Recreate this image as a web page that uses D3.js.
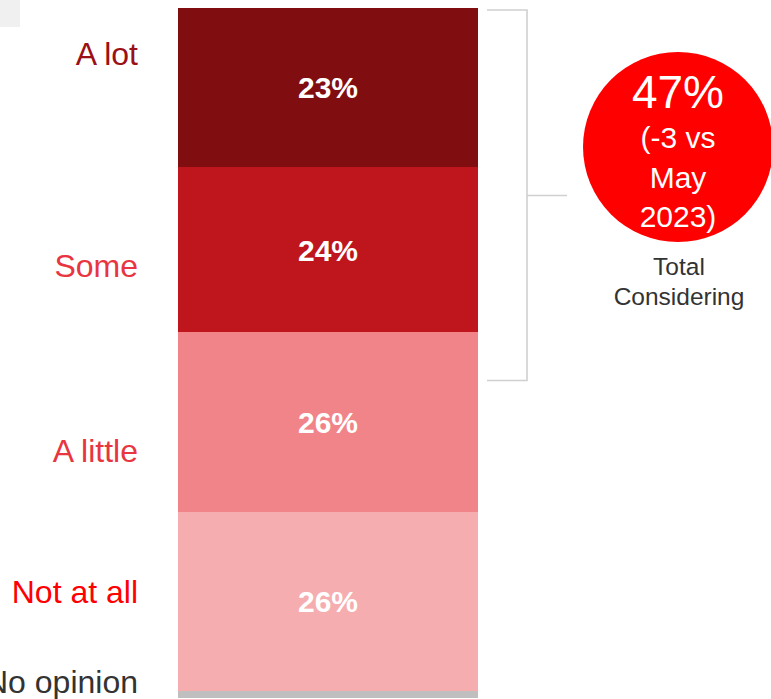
<!DOCTYPE html>
<html><head><meta charset="utf-8">
<script src="https://cdn.jsdelivr.net/npm/d3@7/dist/d3.min.js"></script>
<style>html,body{margin:0;padding:0;background:#fff;}svg{display:block;font-family:"Liberation Sans",Arial,sans-serif;}</style>
</head><body>
<script>
const categories = ["A lot", "Some", "A little", "Not at all", "No opinion"];
const values = [23, 24, 26, 26, 1];
const valueLabels = ["23%", "24%", "26%", "26%", ""];
const barColors = ["#800d10", "#be161c", "#f08488", "#f5adaf", "#bfbfbf"];
const labelColors = ["#9b1014", "#e8353f", "#e8353f", "#ff0000", "#333333"];
const totalValue = "47%";
const totalLines = ["(-3 vs", "May", "2023)"];
const totalCaption = ["Total", "Considering"];

const W = 771, H = 699;
const svg = d3.select("body").append("svg").attr("width", W).attr("height", H);

svg.append("rect").attr("x", 0).attr("y", 0).attr("width", 20).attr("height", 27).attr("fill", "#f0f0f0");

const total = d3.sum(values);
const y = d3.scaleLinear().domain([0, total]).range([8, 698]);
const x = d3.scaleBand().domain(["bar"]).range([178, 478]).padding(0);

const stack = [];
let acc = 0;
values.forEach((v, i) => { stack.push({cat: categories[i], v, y0: acc, y1: acc + v, i}); acc += v; });

svg.selectAll("rect.seg").data(stack).enter().append("rect")
  .attr("class", "seg")
  .attr("shape-rendering", "crispEdges")
  .attr("x", x("bar")).attr("width", x.bandwidth())
  .attr("y", d => y(d.y0)).attr("height", d => y(d.y1) - y(d.y0))
  .attr("fill", d => barColors[d.i]);

svg.selectAll("text.val").data(stack.filter(d => valueLabels[d.i])).enter().append("text")
  .attr("x", x("bar") + x.bandwidth() / 2)
  .attr("y", d => (y(d.y0) + y(d.y1)) / 2 + 11)
  .attr("text-anchor", "middle").attr("fill", "#fff")
  .attr("font-weight", "bold").attr("font-size", 30)
  .text(d => valueLabels[d.i]);

const labelY = [65, 277, 462, 603, 693];
svg.selectAll("text.cat").data(stack).enter().append("text")
  .attr("x", 138).attr("y", d => labelY[d.i])
  .attr("text-anchor", "end").attr("font-size", 32)
  .attr("fill", d => labelColors[d.i])
  .text(d => d.cat);

// bracket
const bx0 = 487, bx1 = 527;
const byTop = 10, byBot = 380.5;
const br = svg.append("g").attr("stroke", "#d0d0d0").attr("stroke-width", 1.6).attr("fill", "none");
br.append("path").attr("d", `M${bx0},${byTop}H${bx1}V${byBot}H${bx0}`);
br.append("line").attr("x1", bx1).attr("x2", 567).attr("y1", 195.5).attr("y2", 195.5);

// circle
const cx = 678, cy = 147, r = 95;
svg.append("circle").attr("cx", cx).attr("cy", cy).attr("r", r).attr("fill", "#ff0000");
svg.append("text").attr("x", cx).attr("y", 108).attr("text-anchor", "middle")
  .attr("fill", "#fff").attr("font-size", 46).text(totalValue);
const lineYs = [148, 188, 227];
totalLines.forEach((t, i) => {
  svg.append("text").attr("x", cx).attr("y", lineYs[i]).attr("text-anchor", "middle")
    .attr("fill", "#fff").attr("font-size", 30).text(t);
});
const capYs = [275, 305];
totalCaption.forEach((t, i) => {
  svg.append("text").attr("x", cx + 1).attr("y", capYs[i]).attr("text-anchor", "middle")
    .attr("fill", "#333").attr("font-size", 24.5).text(t);
});
</script>
</body></html>
